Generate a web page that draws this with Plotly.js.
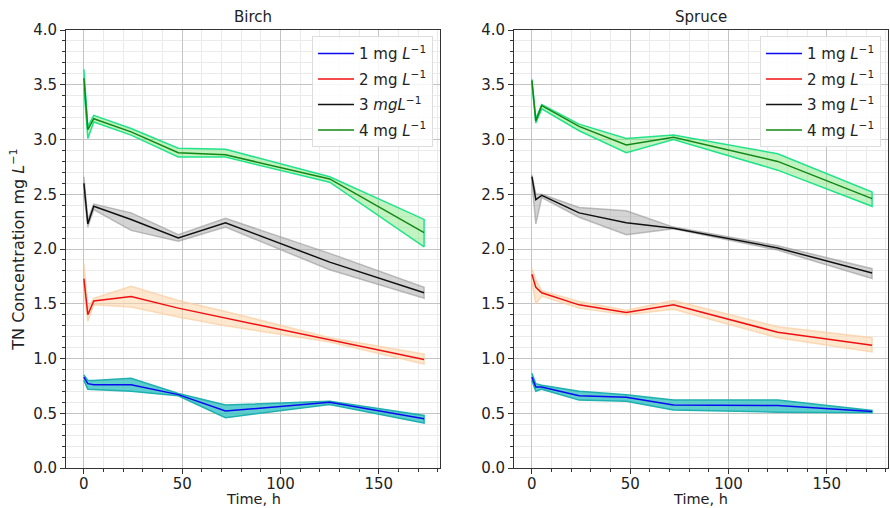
<!DOCTYPE html>
<html>
<head>
<meta charset="utf-8">
<script src="https://cdn.plot.ly/plotly-3.0.1.min.js"></script>
<style>html,body{margin:0;padding:0;background:#fff;}#chart{width:890px;height:508px;}</style>
</head>
<body>
<div id="chart"></div>
<script>
// ---- data ----
const time = [0, 2, 5, 24, 48, 72, 125, 173];
const panelTitles = ['Birch', 'Spruce'];
const xTitle = 'Time, h';
const yTitle = 'TN Concentration mg <i>L</i><sup>−1</sup>';
const seriesNamesBirch = ['1 mg <i>L</i><sup>−1</sup>', '2 mg <i>L</i><sup>−1</sup>', '3 <i>mgL</i><sup>−1</sup>', '4 mg <i>L</i><sup>−1</sup>'];
const seriesNamesSpruce = ['1 mg <i>L</i><sup>−1</sup>', '2 mg <i>L</i><sup>−1</sup>', '3 mg <i>L</i><sup>−1</sup>', '4 mg <i>L</i><sup>−1</sup>'];

// Birch
const birch1    = [0.83, 0.77, 0.76, 0.76, 0.67, 0.52, 0.60, 0.45];
const birch1Lo  = [0.80, 0.72, 0.72, 0.70, 0.66, 0.46, 0.58, 0.41];
const birch1Hi  = [0.85, 0.80, 0.80, 0.82, 0.68, 0.575, 0.61, 0.48];
const birch2    = [1.73, 1.40, 1.525, 1.565, 1.46, 1.37, 1.17, 0.99];
const birch2Lo  = [1.62, 1.34, 1.49, 1.47, 1.38, 1.30, 1.15, 0.95];
const birch2Hi  = [1.87, 1.46, 1.55, 1.66, 1.53, 1.43, 1.19, 1.04];
const birch3    = [2.60, 2.23, 2.39, 2.27, 2.10, 2.24, 1.88, 1.60];
const birch3Lo  = [2.52, 2.20, 2.36, 2.17, 2.07, 2.20, 1.81, 1.55];
const birch3Hi  = [2.66, 2.27, 2.41, 2.33, 2.13, 2.28, 1.96, 1.65];
const birch4    = [3.56, 3.09, 3.19, 3.07, 2.88, 2.86, 2.64, 2.15];
const birch4Lo  = [3.47, 3.01, 3.16, 3.04, 2.84, 2.84, 2.61, 2.02];
const birch4Hi  = [3.64, 3.12, 3.22, 3.10, 2.92, 2.91, 2.66, 2.27];

// Spruce
const spruce1   = [0.83, 0.74, 0.74, 0.66, 0.645, 0.575, 0.57, 0.515];
const spruce1Lo = [0.80, 0.70, 0.72, 0.62, 0.61, 0.53, 0.51, 0.505];
const spruce1Hi = [0.865, 0.77, 0.755, 0.70, 0.67, 0.62, 0.62, 0.525];
const spruce2   = [1.77, 1.65, 1.60, 1.49, 1.42, 1.49, 1.24, 1.12];
const spruce2Lo = [1.70, 1.50, 1.57, 1.46, 1.40, 1.45, 1.19, 1.06];
const spruce2Hi = [1.82, 1.72, 1.62, 1.52, 1.44, 1.53, 1.29, 1.19];
const spruce3   = [2.66, 2.45, 2.49, 2.33, 2.24, 2.19, 2.01, 1.78];
const spruce3Lo = [2.62, 2.23, 2.47, 2.29, 2.13, 2.185, 1.99, 1.73];
const spruce3Hi = [2.68, 2.50, 2.50, 2.38, 2.35, 2.20, 2.03, 1.82];
const spruce4   = [3.54, 3.17, 3.31, 3.12, 2.95, 3.02, 2.80, 2.46];
const spruce4Lo = [3.52, 3.15, 3.28, 3.08, 2.88, 3.00, 2.72, 2.39];
const spruce4Hi = [3.55, 3.19, 3.32, 3.14, 3.01, 3.04, 2.87, 2.52];

// ---- styles ----
const lineColors = ['#0a0af0', '#f01010', '#111111', '#118811'];
const bandFill   = ['rgba(40,190,190,0.75)', 'rgba(253,213,170,0.55)', 'rgba(170,170,170,0.5)', 'rgba(120,230,120,0.45)'];
const bandEdge   = ['#1fb0b0', 'rgba(250,205,160,0.7)', 'rgba(150,150,150,0.6)', '#22e38a'];

const panels = [
  {mean: [birch1, birch2, birch3, birch4], lo: [birch1Lo, birch2Lo, birch3Lo, birch4Lo], hi: [birch1Hi, birch2Hi, birch3Hi, birch4Hi], names: seriesNamesBirch, xa: 'x', ya: 'y', legend: 'legend'},
  {mean: [spruce1, spruce2, spruce3, spruce4], lo: [spruce1Lo, spruce2Lo, spruce3Lo, spruce4Lo], hi: [spruce1Hi, spruce2Hi, spruce3Hi, spruce4Hi], names: seriesNamesSpruce, xa: 'x2', ya: 'y2', legend: 'legend2'}
];

const traces = [];
panels.forEach((p, pi) => {
  for (let i = 0; i < 4; i++) {
    traces.push({
      x: time.concat(time.slice().reverse()),
      y: p.hi[i].concat(p.lo[i].slice().reverse()),
      xaxis: p.xa, yaxis: p.ya, type: 'scatter', mode: 'lines',
      fill: 'toself', fillcolor: bandFill[i],
      line: {color: bandEdge[i], width: 1.5},
      showlegend: false, hoverinfo: 'skip'
    });
  }
  for (let i = 0; i < 4; i++) {
    traces.push({
      x: time, y: p.mean[i], xaxis: p.xa, yaxis: p.ya, type: 'scatter', mode: 'lines',
      line: {color: lineColors[i], width: 1.5},
      name: p.names[i], legend: p.legend, legendgroup: 'g' + pi + '_' + i, showlegend: true
    });
  }
});

const FF = 'DejaVu Sans, sans-serif';
const font = {family: FF, size: 15, color: '#222'};
function xax(domain) {
  return {
    domain: domain, range: [-9.1, 181.1], tickvals: [0, 50, 100, 150], ticktext: ['0', '50', '100', '150'],
    ticks: 'outside', ticklen: 5, tickcolor: '#333', showline: true, linecolor: '#333', linewidth: 1, mirror: true,
    showgrid: true, gridcolor: '#c4c4c4', gridwidth: 1, zeroline: false,
    minor: {dtick: 10, tick0: 0, showgrid: true, gridcolor: '#ebebeb', ticks: 'outside', ticklen: 3, tickcolor: '#333'},
    tickfont: font, automargin: false, ticklabelstandoff: -3
  };
}
function yax(anchor, withTitle) {
  const a = {
    anchor: anchor, range: [0, 4], dtick: 0.5, tick0: 0, tickformat: '.1f',
    ticks: 'outside', ticklen: 5, tickcolor: '#333', showline: true, linecolor: '#333', linewidth: 1, mirror: true,
    showgrid: true, gridcolor: '#c4c4c4', gridwidth: 1, zeroline: false,
    minor: {dtick: 0.1, showgrid: true, gridcolor: '#ebebeb', ticks: 'outside', ticklen: 3, tickcolor: '#333'},
    tickfont: font, automargin: false
  };
  if (withTitle) a.title = {text: yTitle, font: {family: FF, size: 16, color: '#222'}, standoff: 4};
  return a;
}
const legendStyle = (x) => ({
  x: x, y: 0.986, xanchor: 'right', yanchor: 'top', bgcolor: 'rgba(255,255,255,0.85)',
  bordercolor: '#dddddd', borderwidth: 1, font: {family: FF, size: 15, color: '#222'},
  itemwidth: 36, tracegroupgap: 3
});

const dom1 = [0, 0.455], dom2 = [0.545, 1];
const ann = (text, x, y, yanchor, yshift, size) => ({text: text, x: x, y: y, xref: 'paper', yref: 'paper', xanchor: 'center', yanchor: yanchor, yshift: yshift, borderpad: 0, showarrow: false, font: {family: FF, size: size, color: '#222'}});
const layout = {
  width: 890, height: 508,
  margin: {l: 66, r: 2, t: 30, b: 40},
  paper_bgcolor: '#ffffff', plot_bgcolor: '#ffffff',
  font: font,
  xaxis: Object.assign(xax(dom1), {anchor: 'y'}),
  yaxis: yax('x', true),
  xaxis2: Object.assign(xax(dom2), {anchor: 'y2'}),
  yaxis2: yax('x2', false),
  legend: legendStyle(0.4465),
  legend2: legendStyle(0.9915),
  annotations: [
    ann(panelTitles[0], (dom1[0] + dom1[1]) / 2, 1, 'bottom', 3, 15),
    ann(panelTitles[1], (dom2[0] + dom2[1]) / 2, 1, 'bottom', 3, 15),
    ann(xTitle, (dom1[0] + dom1[1]) / 2, 0, 'bottom', -40, 14.5),
    ann(xTitle, (dom2[0] + dom2[1]) / 2, 0, 'bottom', -40, 14.5)
  ],
  showlegend: true
};

Plotly.newPlot('chart', traces, layout, {staticPlot: true, displayModeBar: false});
</script>
</body>
</html>
